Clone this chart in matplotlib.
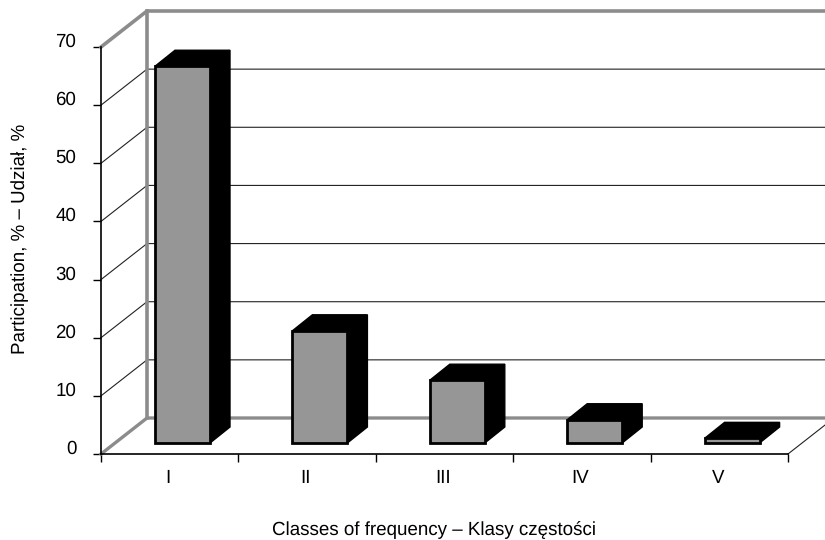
import matplotlib
matplotlib.use("Agg")
import matplotlib.pyplot as plt
from matplotlib.patches import Polygon
from matplotlib.transforms import ScaledTranslation

categories = ["I", "II", "III", "IV", "V"]
values = [64.8, 19.3, 10.8, 4.0, 0.8]
y_ticks = [0, 10, 20, 30, 40, 50, 60, 70]
x_label = "Classes of frequency – Klasy częstości"
y_label = "Participation, % – Udział, %"

plt.rcParams["font.family"] = ["Liberation Sans", "DejaVu Sans"]
plt.rcParams["text.hinting"] = "none"
FS = 13.5
W, H = 825, 540
fig = plt.figure(figsize=(W / 100, H / 100), dpi=100, facecolor="white")
ax = fig.add_axes([101 / W, (H - 454) / H, 687 / W, 407 / H])
ax.set_xlim(0, 5)
ax.set_ylim(0, 70)

UX = 687 / 5   # px per x unit
UY = 407 / 70  # px per y unit
DX = 46 / UX   # wall depth, data units
DY = 36 / UY
GRAY = "#8c8c8c"

# walls and floor
for v in y_ticks[1:-1]:
    ax.plot([0, DX, 5 + DX], [v, v + DY, v + DY], color="#222222", lw=0.8,
            clip_on=False, zorder=1, solid_joinstyle="miter")
ax.plot([0, DX, 5 + DX], [70, 70 + DY, 70 + DY], color=GRAY, lw=2.6, clip_on=False, zorder=2,
        solid_joinstyle="miter")
ax.plot([DX, DX], [DY, 70 + DY], color=GRAY, lw=2.6, clip_on=False, zorder=2)
ax.plot([0, DX, 5 + DX], [0, DY, DY], color=GRAY, lw=2.4, clip_on=False, zorder=2,
        solid_joinstyle="miter")
ax.plot([5, 5 + DX], [0, DY], color="#222222", lw=0.8, clip_on=False, zorder=1)

# 3D bars
front_off = 14 / UX
bar_left = 40 / UX
bar_w = 55 / UX
base = 11 / UY
ddx = 20 / UX
ddy = 16 / UY
for i, v in enumerate(values):
    x0 = i + front_off + bar_left
    x1 = x0 + bar_w
    y0 = base
    y1 = base + v
    side = [(x0, y1), (x0 + ddx, y1 + ddy), (x1 + ddx, y1 + ddy), (x1 + ddx, y0 + ddy), (x1, y0), (x1, y1)]
    ax.add_patch(Polygon(side, closed=True, fc="black", ec="black", lw=1, clip_on=False, zorder=3))
    ax.add_patch(Polygon([(x0, y0), (x1, y0), (x1, y1), (x0, y1)], closed=True, fc="#969696",
                         ec="black", lw=2, clip_on=False, zorder=4, joinstyle="miter"))

# axes
for s in ("top", "right"):
    ax.spines[s].set_visible(False)
for s in ("left", "bottom"):
    ax.spines[s].set_linewidth(1.2)
    ax.spines[s].set_zorder(5)
ax.patch.set_alpha(0)
ax.set_yticks(y_ticks)
ax.set_yticklabels([str(v) for v in y_ticks], fontsize=FS)
ax.set_xticks(range(6))
ax.set_xticklabels([])
ax.set_xticks([i + 0.5 for i in range(5)], minor=True)
ax.set_xticklabels(categories, minor=True, fontsize=FS)
ax.tick_params(axis="x", which="major", length=5.8, width=1, direction="out")
ax.tick_params(axis="x", which="minor", length=0, pad=11)
ax.tick_params(axis="y", length=5.8, width=1, direction="out", pad=12)
off = ScaledTranslation(0, 7 / 100, fig.dpi_scale_trans)
for lab in ax.get_yticklabels():
    lab.set_transform(lab.get_transform() + off)
offx = ScaledTranslation(-1.5 / 100, 0, fig.dpi_scale_trans)
for lab in ax.get_xticklabels(minor=True):
    lab.set_transform(lab.get_transform() + offx)

fig.text(433.5 / W, 1 - 530 / H, x_label, ha="center", va="center", fontsize=FS)
fig.text(20 / W, 1 - 239 / H, y_label, ha="center", va="center", rotation=90, fontsize=FS)

fig.savefig("out.png", dpi=100, facecolor="white")
